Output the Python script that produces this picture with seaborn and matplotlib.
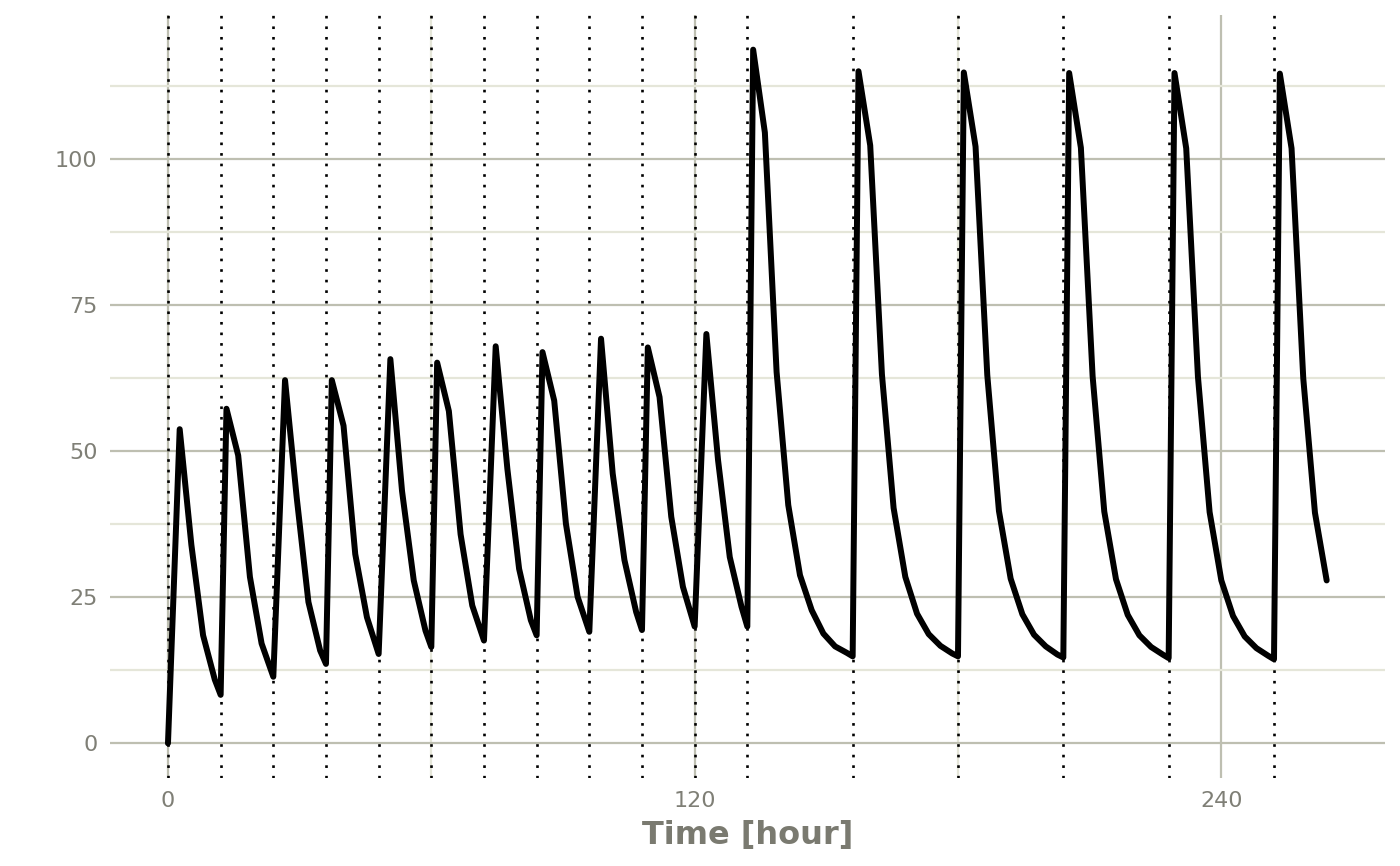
import numpy as np
import pandas as pd
import matplotlib
matplotlib.use('Agg')
import matplotlib.pyplot as plt
import seaborn as sns

# sampling times (hours) and simulated concentration
time_h = [0, 2.67, 5.33, 8, 10.67, 12, 13.33, 16, 18.67, 21.33, 24,
          26.67, 29.33, 32, 34.67, 36, 37.33, 40, 42.67, 45.33, 48,
          50.67, 53.33, 56, 58.67, 60, 61.33, 64, 66.67, 69.33, 72,
          74.67, 77.33, 80, 82.67, 84, 85.33, 88, 90.67, 93.33, 96,
          98.67, 101.33, 104, 106.67, 108, 109.33, 112, 114.67, 117.33, 120,
          122.67, 125.33, 128, 130.67, 132, 133.33, 136, 138.67, 141.33, 144,
          146.67, 149.33, 152, 154.67, 156,
          157.33, 160, 162.67, 165.33, 168, 170.67, 173.33, 176, 178.67, 180,
          181.33, 184, 186.67, 189.33, 192, 194.67, 197.33, 200, 202.67, 204,
          205.33, 208, 210.67, 213.33, 216, 218.67, 221.33, 224, 226.67, 228,
          229.33, 232, 234.67, 237.33, 240, 242.67, 245.33, 248, 250.67, 252,
          253.33, 256, 258.67, 261.33, 264]

conc = [0, 53.8, 34.0, 18.5, 10.9, 8.3, 57.3, 49.3, 28.5, 17.1, 11.4,
        62.2, 42.1, 24.2, 15.9, 13.6, 62.2, 54.4, 32.4, 21.6, 15.3,
        65.8, 43.2, 27.9, 19.3, 16.5, 65.2, 56.9, 35.8, 23.6, 17.6,
        68.0, 47.0, 29.9, 21.1, 18.5, 67.0, 58.7, 37.6, 25.1, 19.1,
        69.3, 46.2, 31.4, 22.5, 19.4, 67.8, 59.3, 38.8, 26.8, 20.0,
        70.1, 48.5, 31.9, 23.4, 20.0, 118.8, 104.6, 63.6, 40.8, 28.8,
        22.8, 18.8, 16.6, 15.5, 14.9,
        115.1, 102.4, 63.2, 40.3, 28.5, 22.2, 18.7, 16.7, 15.4, 14.9,
        114.9, 102.2, 63.1, 39.8, 28.2, 22.1, 18.6, 16.6, 15.2, 14.7,
        114.8, 102.0, 62.9, 39.7, 28.1, 22.0, 18.5, 16.5, 15.2, 14.6,
        114.8, 101.9, 62.8, 39.6, 27.9, 21.8, 18.3, 16.3, 15.0, 14.4,
        114.7, 101.9, 62.5, 39.5, 27.9]

# dosing events (12h then 24h)
dose_times = [0, 12, 24, 36, 48, 60, 72, 84, 96, 108, 120, 132,
              156, 180, 204, 228, 252]

x_ticks = [0, 120, 240]
x_minor = [60, 180]
y_ticks = [0, 25, 50, 75, 100]
y_minor = [12.5, 37.5, 62.5, 87.5, 112.5]

df = pd.DataFrame({'time': time_h, 'conc': conc})

grid_major = '#BEBFB1'
grid_minor = '#E5E6D9'
txt_col = '#7F7F76'

sns.set_theme(style='white')
plt.rcParams['font.family'] = ['DejaVu Sans']

fig, ax = plt.subplots(figsize=(14, 8.66), dpi=100)
fig.subplots_adjust(left=0.0786, right=0.989, top=0.9827, bottom=0.1016)

# lineas de dosis
for t in dose_times:
    ax.axvline(t, color='black', lw=1.9, linestyle=(0, (1, 3)), zorder=2)

sns.lineplot(data=df, x='time', y='conc', color='black', lw=4.3,
             ax=ax, zorder=3)

ax.set_xlim(-13.2, 277.2)
ax.set_ylim(-5.94, 124.74)
ax.set_xticks(x_ticks)
ax.set_xticks(x_minor, minor=True)
ax.set_yticks(y_ticks)
ax.set_yticks(y_minor, minor=True)
ax.set_axisbelow(True)
ax.grid(which='major', color=grid_major, lw=1.6)
ax.grid(which='minor', color=grid_minor, lw=1.6)
ax.tick_params(which='major', length=5, width=1.5, color=grid_major,
               labelsize=16, labelcolor=txt_col, pad=4)
ax.tick_params(which='minor', length=0)
for s in ax.spines.values():
    s.set_visible(False)

ax.set_xlabel('Time [hour]', fontsize=23, fontweight='bold', color='#7A7A70',
              labelpad=7)
ax.set_ylabel('')

fig.savefig('out.png', dpi=100)
